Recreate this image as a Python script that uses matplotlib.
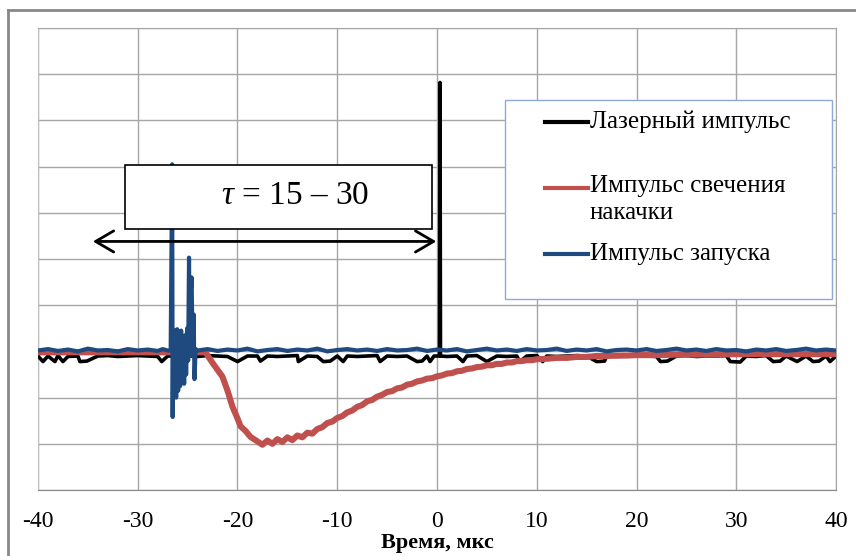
import matplotlib
matplotlib.use('Agg')
import matplotlib.pyplot as plt
from matplotlib.patches import Rectangle, FancyArrowPatch
from matplotlib.lines import Line2D

# ---------------- data ----------------
x_ticks = [-40, -30, -20, -10, 0, 10, 20, 30, 40]
x_tick_labels = ['-40', '-30', '-20', '-10', '0', '10', '20', '30', '40']
y_grid = [-3, -2, -1, 0, 1, 2, 3, 4, 5, 6, 7]
x_label = 'Время, мкс'
series_labels = ['Лазерный импульс', 'Импульс свечения\nнакачки', 'Импульс запуска']
annotation_text = r'$\tau$ = 15 – 30'

# laser pulse (black)
laser_t = [
    -40, -39.5, -39, -38.3, -38, -37.5, -37, -36, -35.8, -35.1,
    -34, -33, -32, -31, -30, -29, -28, -27.6, -27, -26,
    -25, -24, -23, -22, -21, -20, -19, -18, -17.7, -17,
    -16, -15, -14, -13.9, -13, -12, -11.4, -10.7, -10, -9.4,
    -9, -8, -7, -6, -5.7, -5, -4, -3, -2, -1.5,
    -1, -0.7, -0.3, 0.25, 0.3, 0.35, 1, 2, 2.6, 3,
    4, 5, 6, 7, 8, 8.3, 9, 10, 10.6, 11,
    12, 13, 14, 15, 16, 16.8, 17, 18, 19, 20,
    21, 22, 22.4, 23.1, 24, 25, 26, 27, 28, 29,
    29.4, 30.4, 31, 32, 33, 33.7, 34.4, 35, 36.1, 37,
    37.7, 38.3, 39, 39.4, 40]
laser_v = [
    -0.10, -0.22, -0.10, -0.22, -0.09, -0.22, -0.11, -0.10, -0.22, -0.21,
    -0.10, -0.09, -0.11, -0.10, -0.09, -0.10, -0.11, -0.22, -0.10, -0.10,
    -0.10, -0.11, -0.09, -0.10, -0.11, -0.22, -0.10, -0.10, -0.21, -0.10,
    -0.11, -0.10, -0.09, -0.22, -0.10, -0.11, -0.22, -0.21, -0.10, -0.22,
    -0.10, -0.11, -0.10, -0.09, -0.22, -0.10, -0.11, -0.10, -0.22, -0.21,
    -0.10, -0.22, -0.10, -0.10, 5.82, -0.10, -0.11, -0.10, -0.22, -0.10,
    -0.09, -0.22, -0.10, -0.11, -0.10, -0.22, -0.10, -0.09, -0.22, -0.10,
    -0.11, -0.10, -0.09, -0.10, -0.22, -0.21, -0.10, -0.11, -0.10, -0.09,
    -0.10, -0.11, -0.22, -0.21, -0.10, -0.09, -0.11, -0.10, -0.10, -0.09,
    -0.22, -0.23, -0.10, -0.11, -0.09, -0.22, -0.21, -0.10, -0.22, -0.10,
    -0.22, -0.21, -0.10, -0.22, -0.10]

# pump glow pulse (red)
glow_t = [
    -40, -35, -30, -25, -23.2, -22.5, -22, -21.5, -21, -20.5,
    -20, -19.7, -19.2, -18.7, -18.2, -17.5, -17, -16.5, -16, -15.5,
    -15, -14.5, -14, -13.5, -13, -12.5, -12, -11.5, -11, -10.5,
    -10, -9.5, -9, -8.5, -8, -7.5, -7, -6.5, -6, -5.5,
    -5, -4.5, -4, -3.5, -3, -2.5, -2, -1.5, -1, -0.5,
    0, 0.5, 1, 1.5, 2, 2.5, 3, 3.5, 4, 4.5,
    5, 5.5, 6, 6.5, 7, 7.5, 8, 8.5, 9, 9.5,
    10, 11, 12, 13, 14, 15, 16, 17, 18, 19,
    20, 22, 24, 26, 28, 30, 32, 34, 36, 38, 40]
glow_v = [
    -0.02, -0.02, -0.02, -0.02, -0.02, -0.25, -0.40, -0.55, -0.85, -1.20,
    -1.45, -1.62, -1.72, -1.85, -1.92, -2.02, -1.93, -2.00, -1.90, -1.96,
    -1.86, -1.92, -1.82, -1.86, -1.76, -1.78, -1.68, -1.64, -1.55, -1.52,
    -1.44, -1.40, -1.32, -1.28, -1.20, -1.16, -1.08, -1.05, -0.98, -0.94,
    -0.88, -0.86, -0.80, -0.78, -0.72, -0.70, -0.65, -0.63, -0.59, -0.58,
    -0.54, -0.52, -0.48, -0.47, -0.43, -0.42, -0.38, -0.37, -0.34, -0.33,
    -0.30, -0.30, -0.27, -0.27, -0.24, -0.24, -0.21, -0.21, -0.19, -0.19,
    -0.17, -0.16, -0.14, -0.14, -0.12, -0.12, -0.10, -0.10, -0.09, -0.09,
    -0.08, -0.08, -0.07, -0.07, -0.07, -0.06, -0.06, -0.06, -0.06, -0.06, -0.06]

# trigger pulse (blue)
trig_t = [
    -40, -39, -38, -37, -36, -35, -34, -33, -32, -31,
    -30, -29, -28, -27.5, -27, -26.7, -26.55, -26.5, -26.45, -26.35,
    -26.25, -26.15, -26.05, -25.95, -25.85, -25.75, -25.65, -25.55, -25.45, -25.35,
    -25.25, -25.15, -25.05, -24.95, -24.86, -24.78, -24.68, -24.6, -24.5, -24.4,
    -24.31, -24.2, -24.0, -23, -22, -21, -20, -19, -18, -17,
    -16, -15, -14, -13, -12, -11, -10, -9, -8, -7,
    -6, -5, -4, -3, -2, -1, 0, 1, 2, 3,
    4, 5, 6, 7, 8, 9, 10, 11, 12, 13,
    14, 15, 16, 17, 18, 19, 20, 21, 22, 23,
    24, 25, 26, 27, 28, 29, 30, 31, 32, 33,
    34, 35, 36, 37, 38, 39, 40]
trig_v = [
    0.02, 0.05, 0.01, 0.04, 0.00, 0.06, 0.02, 0.03, 0.00, 0.05,
    0.02, 0.04, 0.01, 0.05, 0.02, 0.02, 4.05, -1.42, 0.30, -0.50,
    0.45, -1.00, 0.48, -0.85, 0.40, -0.75, 0.45, -0.60, 0.30, -0.70,
    0.35, -0.50, 0.50, -0.20, 2.03, -0.10, 1.30, 1.60, -0.10, 0.80,
    -0.60, 0.05, 0.02, 0.05, 0.01, 0.04, 0.02, 0.06, 0.00, 0.03,
    0.05, 0.01, 0.04, 0.02, 0.06, 0.00, 0.03, 0.05, 0.02, 0.04,
    0.01, 0.05, 0.02, 0.03, 0.06, 0.01, 0.04, 0.02, 0.05, 0.00,
    0.03, 0.06, 0.02, 0.04, 0.01, 0.05, 0.02, 0.03, 0.06, 0.01,
    0.04, 0.02, 0.05, 0.00, 0.03, 0.04, 0.02, 0.05, 0.01, 0.03,
    0.06, 0.02, 0.04, 0.01, 0.05, 0.02, 0.03, 0.00, 0.04, 0.02,
    0.05, 0.01, 0.03, 0.06, 0.02, 0.04, 0.02]

colors = ['#000000', '#c0504d', '#1f4a80']

# ---------------- figure ----------------
W, H = 856, 556
plt.rcParams['font.family'] = ['Liberation Serif', 'DejaVu Serif']
plt.rcParams['mathtext.fontset'] = 'custom'
plt.rcParams['mathtext.rm'] = 'Liberation Serif'
plt.rcParams['mathtext.it'] = 'Liberation Serif:italic'

fig = plt.figure(figsize=(W / 100, H / 100), dpi=100)
fig.patch.set_facecolor('white')


def fx(px):
    return px / W


def fy(py):
    return 1 - py / H


ax = fig.add_axes([fx(38), fy(490), (836 - 38) / W, (490 - 28) / H])
ax.set_xlim(-40, 40)
ax.set_ylim(-3, 7)
ax.set_xticks(x_ticks)
ax.set_xticklabels(x_tick_labels)
ax.set_yticks(y_grid)
ax.set_yticklabels([])
ax.tick_params(axis='both', length=0)
ax.tick_params(axis='x', pad=15, labelsize=17)
ax.grid(True, color='#a6a6a6', lw=1)
ax.set_axisbelow(True)
for side in ['top', 'right']:
    ax.spines[side].set_color('#a6a6a6')
ax.spines['left'].set_color('#bfbfbf')
ax.spines['bottom'].set_color('#868686')
ax.set_xlabel(x_label, fontsize=16, fontweight='bold', labelpad=1)

ax.plot(laser_t, laser_v, color=colors[0], lw=2.6, zorder=3)
ax.plot(glow_t, glow_v, color=colors[1], lw=4.4, zorder=4)
ax.plot(trig_t, trig_v, color=colors[2], lw=3.0, zorder=5)

# annotation box
ax.add_patch(Rectangle((-31.28, 2.64), 30.81, 1.39, facecolor='white',
                       edgecolor='black', lw=1.2, zorder=6))
ax.text(-14.2, 3.36, annotation_text, fontsize=24, ha='center', va='center', zorder=7)
ax.add_patch(FancyArrowPatch((-34.5, 2.38), (-0.07, 2.38),
                             arrowstyle='<->,head_length=0.65,head_width=0.38',
                             mutation_scale=20, lw=2, color='black',
                             shrinkA=0, shrinkB=0, zorder=7))

# legend (manual)
fig.add_artist(Rectangle((fx(505), fy(299)), (832 - 505) / W, (299 - 100) / H,
                         transform=fig.transFigure, facecolor='white',
                         edgecolor='#8eaadb', lw=1, zorder=10))
leg_y = [122, 188, 254]
for lbl, c, yy in zip(series_labels, colors, leg_y):
    fig.add_artist(Line2D([fx(545), fx(588)], [fy(yy), fy(yy)], color=c, lw=3,
                          transform=fig.transFigure, zorder=11))
    if '\n' in lbl:
        fig.text(fx(590), fy(yy - 13), lbl, fontsize=18, ha='left', va='top',
                 linespacing=1.3, zorder=11)
    else:
        fig.text(fx(590), fy(yy), lbl, fontsize=18, ha='left', va='center', zorder=11)

# outer chart frame
fig.add_artist(Line2D([fx(8), 1], [fy(10), fy(10)], color='#878787', lw=2,
                      transform=fig.transFigure))
fig.add_artist(Line2D([fx(8), fx(8)], [fy(10), 0], color='#878787', lw=2,
                      transform=fig.transFigure))

fig.savefig('out.png', dpi=100, facecolor='white')
